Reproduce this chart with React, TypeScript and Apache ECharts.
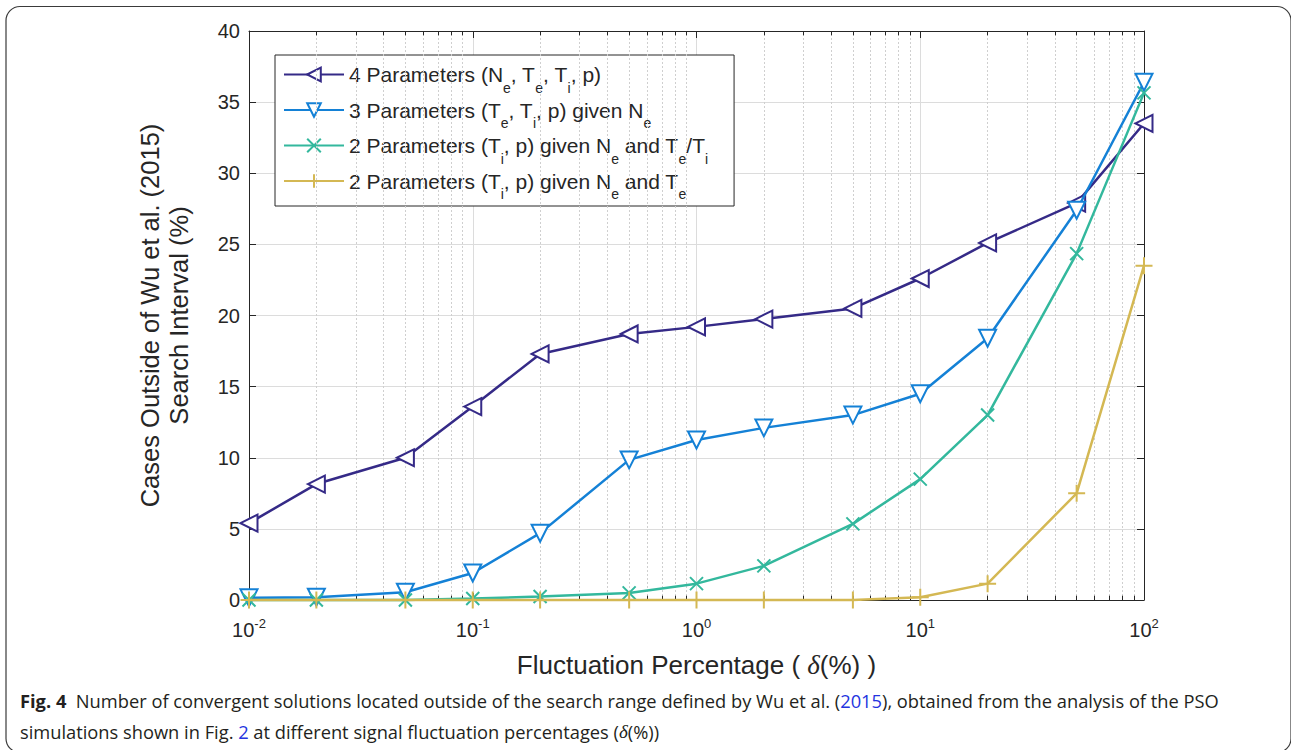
import React, { useEffect, useRef } from "react";
import * as echarts from "echarts";

// ---- data ----
const xValues = [0.01, 0.02, 0.05, 0.1, 0.2, 0.5, 1, 2, 5, 10, 20, 50, 100];
const fourParams = [5.4, 8.15, 10.0, 13.6, 17.3, 18.7, 19.2, 19.75, 20.5, 22.6, 25.1, 27.9, 33.5];
const threeParams = [0.15, 0.2, 0.55, 1.9, 4.7, 9.85, 11.25, 12.1, 13.0, 14.5, 18.4, 27.4, 36.4];
const twoParamsRatio = [0, 0, 0, 0.1, 0.25, 0.5, 1.15, 2.4, 5.35, 8.5, 13.0, 24.35, 35.65];
const twoParamsTe = [0, 0, 0, 0, 0, 0, 0, 0, 0, 0.2, 1.15, 7.5, 23.5];

const seriesNames = [
  "4 Parameters (Ne, Te, Ti, p)",
  "3 Parameters (Te, Ti, p) given Ne",
  "2 Parameters (Ti, p) given Ne and Te/Ti",
  "2 Parameters (Ti, p) given Ne and Te",
];
const legendRich = [
  "{n|4 Parameters (N}{s|e}{n|, T}{s|e}{n|, T}{s|i}{n|, p)}",
  "{n|3 Parameters (T}{s|e}{n|, T}{s|i}{n|, p) given N}{s|e}",
  "{n|2 Parameters (T}{s|i}{n|, p) given N}{s|e}{n| and T}{s|e}{n|/T}{s|i}",
  "{n|2 Parameters (T}{s|i}{n|, p) given N}{s|e}{n| and T}{s|e}",
];
const seriesValues = [fourParams, threeParams, twoParamsRatio, twoParamsTe];
const colors = ["#352a87", "#1481d6", "#33b89d", "#d4b853"];
const symbols = [
  "emptyTriangle",
  "emptyTriangle",
  "path://M0,0L10,10M10,0L0,10",
  "path://M5,0L5,10M0,5L10,5",
];
const symbolRotates = [90, 180, 0, 0];
const symbolSizes = [17, 17, 13, 17];

const decadeStarts = [0.01, 0.1, 1, 10];
const minorMultipliers = [2, 3, 4, 5, 6, 7, 8, 9];

const xTitle = "{a|Fluctuation Percentage ( }{i|δ}{a|(%) )}";
const yTitle = "Cases Outside of Wu et al. (2015)\nSearch Interval (%)";
const captionLine1 =
  "{b|Fig. 4}  Number of convergent solutions located outside of the search range defined by Wu et al. ({l|2015}), obtained from the analysis of the PSO";
const captionLine2 =
  "simulations shown in Fig. {l|2} at different signal fluctuation percentages ({i|δ}(%))";

export default function App() {
  const ref = useRef<HTMLDivElement>(null);

  useEffect(() => {
    document.body.style.margin = "0";
    if (!ref.current) return;
    const chart = echarts.init(ref.current, undefined, { renderer: "svg" });

    const minors: number[] = [];
    decadeStarts.forEach((d) => minorMultipliers.forEach((m) => minors.push(+(d * m).toPrecision(3))));

    const axisColor = "#262626";
    const font = "Liberation Sans";
    const capFont = "Open Sans";
    const capSize = 18.3;

    const mainSeries = seriesNames.map((name, i) => ({
      type: "line",
      name,
      data: xValues.map((x, j) => [x, seriesValues[i][j]]),
      symbol: symbols[i],
      symbolSize: symbolSizes[i],
      symbolRotate: symbolRotates[i],
      showAllSymbol: true,
      clip: false,
      z: 5 + i,
      lineStyle: { color: colors[i], width: 2.5 },
      itemStyle: { color: colors[i], borderColor: colors[i], borderWidth: 2 },
    }));

    const option: any = {
      animation: false,
      backgroundColor: "#ffffff",
      grid: { left: 249, right: 147, top: 31, bottom: 150 },
      xAxis: [
        {
          type: "log",
          logBase: 10,
          min: 0.01,
          max: 100,
          splitNumber: 4,
          position: "bottom",
          axisLine: { show: true, onZero: false, lineStyle: { color: axisColor, width: 1 } },
          axisTick: { show: true, inside: true, length: 7, lineStyle: { color: axisColor } },
          splitLine: { show: true, lineStyle: { color: "#dcdcdc", width: 1 } },
          axisLabel: {
            margin: 17,
            color: axisColor,
            formatter: (v: number) => `{b|10}{s|${Math.round(Math.log10(v))}}`,
            rich: {
              b: { fontSize: 20, fontFamily: font, color: axisColor, lineHeight: 26 },
              s: { fontSize: 13, fontFamily: font, color: axisColor, verticalAlign: "top" },
            },
          },
          name: xTitle,
          nameLocation: "middle",
          nameGap: 51,
          nameTextStyle: {
            rich: {
              a: { fontSize: 26, fontFamily: font, color: axisColor },
              i: { fontSize: 27, fontFamily: "Liberation Serif", fontStyle: "italic", color: axisColor },
            },
          },
        },
        {
          type: "log",
          logBase: 10,
          min: 0.01,
          max: 100,
          splitNumber: 4,
          position: "top",
          axisLine: { show: true, onZero: false, lineStyle: { color: axisColor, width: 1 } },
          axisTick: { show: true, inside: true, length: 7, lineStyle: { color: axisColor } },
          axisLabel: { show: false },
          splitLine: { show: false },
        },
      ],
      yAxis: [
        {
          type: "value",
          min: 0,
          max: 40,
          interval: 5,
          axisLine: { show: true, lineStyle: { color: axisColor, width: 1 } },
          axisTick: { show: true, inside: true, length: 7, lineStyle: { color: axisColor } },
          splitLine: { show: true, lineStyle: { color: "#dcdcdc", width: 1 } },
          axisLabel: { fontSize: 20, fontFamily: font, color: axisColor, margin: 9 },
          name: yTitle,
          nameLocation: "middle",
          nameRotate: 90,
          nameGap: 56,
          nameTextStyle: { fontSize: 25.5, fontFamily: font, color: axisColor, lineHeight: 29 },
        },
        {
          type: "value",
          min: 0,
          max: 40,
          interval: 5,
          position: "right",
          axisLine: { show: true, lineStyle: { color: axisColor, width: 1 } },
          axisTick: { show: true, inside: true, length: 7, lineStyle: { color: axisColor } },
          axisLabel: { show: false },
          splitLine: { show: false },
        },
      ],
      legend: {
        data: seriesNames,
        orient: "vertical",
        left: 275,
        top: 55,
        itemWidth: 60,
        itemHeight: 17,
        itemGap: 5,
        padding: [9, 26, 5, 8],
        borderColor: axisColor,
        borderWidth: 1,
        backgroundColor: "#ffffff",
        selectedMode: false,
        formatter: (name: string) => legendRich[seriesNames.indexOf(name)],
        textStyle: {
          fontSize: 21,
          fontFamily: font,
          color: axisColor,
          rich: {
            n: { fontSize: 21, fontFamily: font, color: axisColor, lineHeight: 40 },
            s: { fontSize: 14, fontFamily: font, color: axisColor, verticalAlign: "bottom" },
          },
        },
      },
      series: [
        {
          type: "line",
          name: "minor-grid",
          data: [],
          silent: true,
          z: 1,
          markLine: {
            silent: true,
            symbol: ["none", "none"],
            label: { show: false },
            lineStyle: { color: "#cfcfcf", width: 1, type: [2, 2] },
            data: minors.map((v) => ({ xAxis: v })),
          },
        },
        {
          type: "line",
          name: "minor-ticks",
          data: [],
          silent: true,
          z: 2,
          markLine: {
            silent: true,
            symbol: ["none", "none"],
            label: { show: false },
            lineStyle: { color: axisColor, width: 1, type: "solid" },
            data: [
              ...minors.map((v) => [{ coord: [v, 0] }, { coord: [v, 0.3] }]),
              ...minors.map((v) => [{ coord: [v, 40] }, { coord: [v, 39.7] }]),
            ],
          },
        },
        ...mainSeries,
      ],
      graphic: [
        {
          type: "rect",
          silent: true,
          shape: { x: 6, y: 6.5, width: 1285, height: 746, r: 14 },
          style: { fill: "none", stroke: "#3a3a3a", lineWidth: 1.2 },
        },
        {
          type: "text",
          x: 20,
          y: 700,
          silent: true,
          style: {
            text: captionLine1,
            fontFamily: capFont,
            fontSize: capSize,
            fill: "#231f20",
            verticalAlign: "middle",
            rich: {
              b: { fontFamily: capFont, fontWeight: "bold", fontSize: capSize, fill: "#231f20" },
              l: { fontFamily: capFont, fontSize: capSize, fill: "#2434e0" },
            },
          },
        },
        {
          type: "text",
          x: 20,
          y: 731,
          silent: true,
          style: {
            text: captionLine2,
            fontFamily: capFont,
            fontSize: capSize,
            fill: "#231f20",
            verticalAlign: "middle",
            rich: {
              l: { fontFamily: capFont, fontSize: capSize, fill: "#2434e0" },
              i: { fontFamily: "Liberation Serif", fontStyle: "italic", fontSize: 19, fill: "#231f20" },
            },
          },
        },
      ],
    };

    chart.setOption(option);
    return () => chart.dispose();
  }, []);

  return <div ref={ref} style={{ width: 1291, height: 750 }} />;
}
